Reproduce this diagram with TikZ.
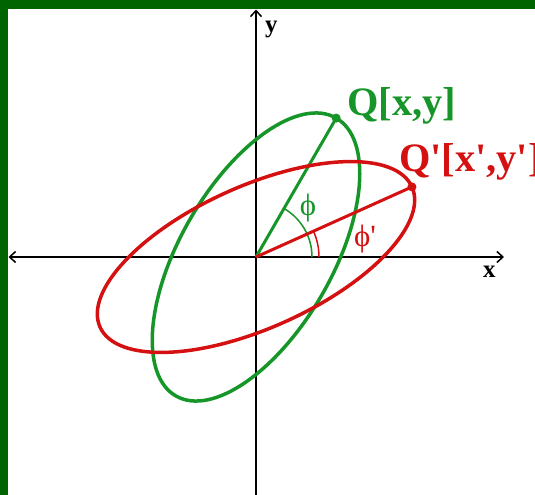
\documentclass[tikz,border=0pt]{standalone}
\usepackage{fontspec}
\newfontfamily\tnr{Liberation Serif}
\usetikzlibrary{arrows.meta}
\definecolor{framegreen}{RGB}{0,100,0}
\definecolor{eg}{RGB}{22,150,40}
\definecolor{er}{RGB}{212,16,16}
\begin{document}
\begin{tikzpicture}[x=1bp,y=-1bp,
  axisline/.style={line width=1.5bp, black},
  curvegreen/.style={draw=eg, line width=3.5bp},
  curvered/.style={draw=er, line width=3.5bp},
  rayline/.style={line width=3bp},
  anglearc/.style={line width=1.5bp},
  biglabel/.style={font=\tnr\bfseries\fontsize{40.5}{42}\selectfont, inner sep=0pt, anchor=base west},
  axlabel/.style={font=\tnr\bfseries\fontsize{25}{27}\selectfont, inner sep=0pt, anchor=base west},
  anglabel/.style={font=\tnr\fontsize{31}{33}\selectfont, inner sep=0pt}]
\fill[framegreen] (0,0) rectangle (535,495);
\fill[white] (8,9) rectangle (535,495);
\useasboundingbox (0,0) rectangle (535,495);
% axes
\coordinate (O) at (256,257);
\coordinate (ybot) at (256,495);
\coordinate (ytop) at (256,9.5);
\coordinate (xl) at (8.5,257);
\coordinate (xr) at (504,257);
\draw[axisline, -{Straight Barb[length=6bp,width=11bp]}] (ybot) -- (ytop);
\draw[axisline, {Straight Barb[length=6bp,width=11bp]}-{Straight Barb[length=6bp,width=11bp]}] (xl) -- (xr);
\node[axlabel] (ylab) at (265,33) {y};
\node[axlabel] (xlab) at (483,277) {x};
% green
\begin{scope}[shift={(O)}, yscale=-1]
  \coordinate (Q) at (60:160.4);
  \coordinate (Qp) at (24.2:171);
  \draw[curvegreen, rotate=-60] (0,0) ellipse [x radius=160.4, y radius=76];
  \draw[eg, anglearc] (56,0) arc[start angle=0, end angle=60, radius=56];
  \draw[er, anglearc] (63,0) arc[start angle=0, end angle=24.2, radius=63];
\end{scope}
\draw[eg, rayline] (O) -- (Q);
\fill[eg] (Q) circle (4.5);
\begin{scope}[shift={(O)}, yscale=-1]
  \draw[curvered, rotate=-24.2] (0,0) ellipse [x radius=171, y radius=71];
\end{scope}
\draw[er, rayline] (O) -- (Qp);
\fill[er] (Qp) circle (4.5);
\node[biglabel, text=eg] (Qlab) at (347,116) {Q[x,y]};
\node[biglabel, text=er] (Qplab) at (399,172) {Q'[x',y']};
\node[anglabel, text=eg] (philab) at (308,208) {ϕ};
\node[anglabel, text=er] (phiplab) at (365,239) {ϕ'};
\end{tikzpicture}
\end{document}
